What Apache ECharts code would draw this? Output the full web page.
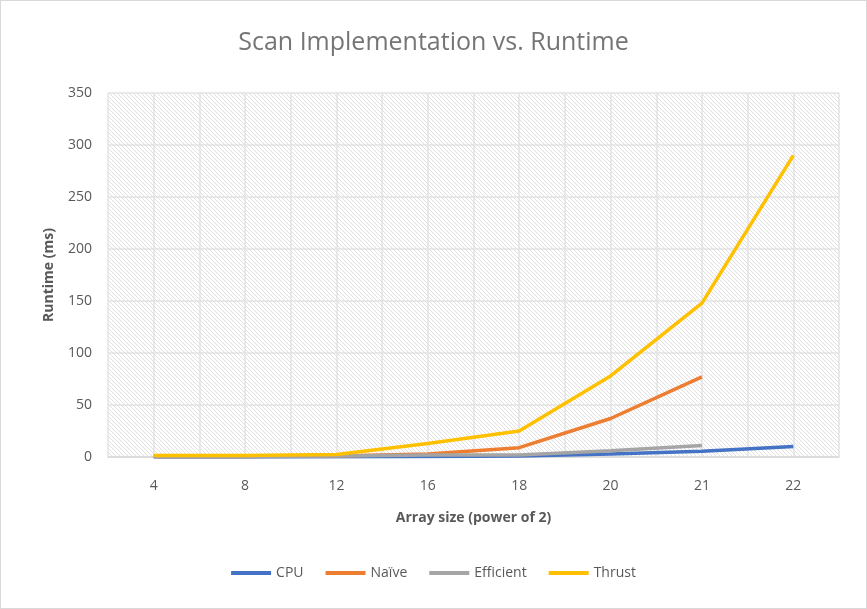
<!DOCTYPE html>
<html>
<head>
<meta charset="utf-8">
<script src="https://cdn.jsdelivr.net/npm/echarts@6/dist/echarts.min.js"></script>
<style>
html,body{margin:0;padding:0;background:#fff}
#main{width:865px;height:607px;border:1px solid #d9d9d9}
</style>
</head>
<body>
<div id="main"></div>
<script>
var sizes = ['4', '8', '12', '16', '18', '20', '21', '22'];
var cpu = [0.1, 0.1, 0.2, 0.5, 1, 3, 5.5, 10];
var naive = [0.5, 0.5, 1, 3, 9, 37, 77, null];
var efficient = [0.5, 0.5, 1, 2, 2, 6, 11, null];
var thrust = [1.5, 1.5, 2.5, 13, 25, 78, 148, 290];
var halfTicks = [];
for (var i = 0; i < sizes.length * 2; i++) halfTicks.push(String(i));

// hatched plot background
var cv = document.createElement('canvas');
cv.width = 4; cv.height = 4;
var ctx = cv.getContext('2d');
ctx.fillStyle = '#fff';
ctx.fillRect(0, 0, 4, 4);
ctx.strokeStyle = '#e0e0e0';
ctx.lineWidth = 1;
ctx.beginPath();
ctx.moveTo(0, 0); ctx.lineTo(4, 4);
ctx.moveTo(-1, 3); ctx.lineTo(1, 5);
ctx.moveTo(3, -1); ctx.lineTo(5, 1);
ctx.stroke();

var myChart = echarts.init(document.getElementById('main'));
function line(name, data, color) {
	return {
		name: name,
		type: 'line',
		data: data,
		color: color,
		symbol: 'none',
		lineStyle: { width: 3.5, color: color },
		z: 3
	};
}
var option = {
	textStyle: { fontFamily: 'Open Sans' },
	title: {
		text: 'Scan Implementation vs. Runtime',
		left: 'center',
		top: 24,
		textStyle: { color: '#757575', fontSize: 25, fontWeight: 'normal' }
	},
	legend: {
		bottom: 23,
		left: 'center',
		itemWidth: 40,
		itemHeight: 4,
		itemGap: 22,
		icon: 'rect',
		textStyle: { color: '#595959', fontSize: 14 },
		data: ['CPU', 'Naïve', 'Efficient', 'Thrust']
	},
	grid: {
		left: 107,
		right: 27,
		top: 92,
		bottom: 151,
		show: true,
		borderWidth: 0,
		backgroundColor: { image: cv, repeat: 'repeat' }
	},
	xAxis: [{
		type: 'category',
		data: sizes,
		boundaryGap: true,
		name: 'Array size (power of 2)',
		nameLocation: 'middle',
		nameGap: 54,
		nameTextStyle: { color: '#595959', fontSize: 14, fontWeight: 'bold' },
		axisLine: { lineStyle: { color: '#d9d9d9', width: 1.5 } },
		axisTick: { show: false },
		axisLabel: { color: '#595959', fontSize: 14, margin: 22 },
		splitLine: { show: false }
	}, {
		type: 'category',
		data: halfTicks,
		position: 'bottom',
		boundaryGap: true,
		axisLine: { show: false },
		axisTick: { show: false },
		axisLabel: { show: false },
		splitLine: { show: true, lineStyle: { color: '#e3e3e3', width: 1.5 } }
	}],
	yAxis: {
		type: 'value',
		min: 0,
		max: 350,
		interval: 50,
		name: 'Runtime (ms)',
		nameLocation: 'middle',
		nameGap: 52,
		nameTextStyle: { color: '#595959', fontSize: 14, fontWeight: 'bold' },
		axisLine: { show: false },
		axisTick: { show: false },
		axisLabel: { color: '#595959', fontSize: 14, margin: 16 },
		splitLine: { lineStyle: { color: '#e3e3e3', width: 1.5 } }
	},
	series: [
		line('CPU', cpu, '#4472c4'),
		line('Naïve', naive, '#ed7d31'),
		line('Efficient', efficient, '#a5a5a5'),
		line('Thrust', thrust, '#ffc000')
	]
};
myChart.setOption(option);
</script>
</body>
</html>
